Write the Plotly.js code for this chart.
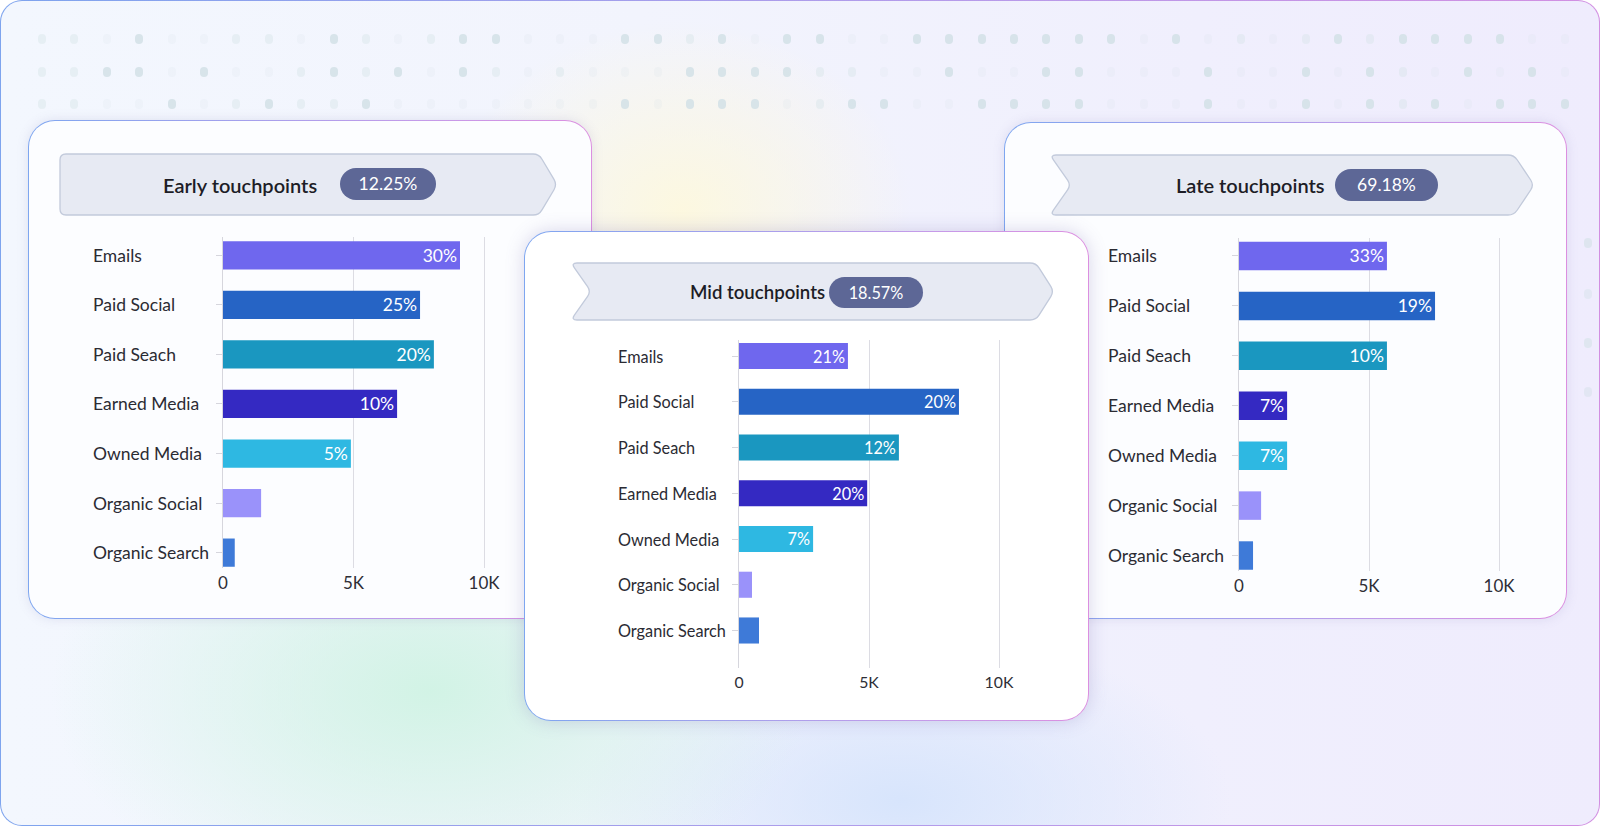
<!DOCTYPE html>
<html>
<head>
<meta charset="utf-8">
<script src="https://cdn.plot.ly/plotly-3.0.1.min.js"></script>
<style>
html,body{margin:0;padding:0;width:1600px;height:826px;overflow:hidden;background:#ffffff;font-family:Lato,"Open Sans",sans-serif;}
#frame{position:absolute;left:0;top:0;width:1600px;height:826px;box-sizing:border-box;border:1.5px solid transparent;border-radius:22px;z-index:0;overflow:hidden;
background:
 radial-gradient(ellipse 230px 190px at 680px 210px, rgba(253,248,222,0.95), rgba(253,248,222,0) 100%) padding-box,
 radial-gradient(ellipse 380px 230px at 430px 690px, rgba(208,243,228,0.95), rgba(208,243,228,0) 100%) padding-box,
 radial-gradient(ellipse 330px 170px at 900px 800px, rgba(214,228,252,0.95), rgba(214,228,252,0) 100%) padding-box,
 linear-gradient(90deg,#f3f7fe 0%,#f2f4fd 40%,#f0effd 75%,#efecfd 100%) padding-box,
 linear-gradient(90deg,#7ea4ee,#b69bea 60%,#d28fe2) border-box;}
.dot{position:absolute;width:8px;height:10px;border-radius:4px;background:#d2e1e6;}
.card{position:absolute;box-sizing:border-box;border:1.5px solid transparent;border-radius:27px;
 background:linear-gradient(#fcfdff,#fcfdff) padding-box, linear-gradient(90deg,#7ea6f0,#c49be9 70%,#dc8fe0) border-box;
 box-shadow:0 0 12px rgba(120,110,170,0.16);}
.bsvg{position:absolute;left:0;top:0;width:1600px;height:826px;pointer-events:none;}
.btitle{position:absolute;font-family:Lato,sans-serif;font-weight:600;color:#1d1d26;white-space:nowrap;}
.pill{position:absolute;background:#5d6796;color:#ffffff;font-family:Lato,sans-serif;text-align:center;}
#plot{position:absolute;left:0;top:0;width:1600px;height:826px;z-index:10;}
</style>
</head>
<body>
<div id="frame"></div>
<div class="card" style="left:28px;top:120px;width:564px;height:499px;z-index:2;"></div>
<div class="card" style="left:1004px;top:122px;width:563px;height:497px;z-index:2;"></div>
<div class="card" style="left:524px;top:231px;width:565px;height:490px;z-index:4;background:linear-gradient(#ffffff,#ffffff) padding-box, linear-gradient(90deg,#7ea6f0,#c49be9 70%,#dc8fe0) border-box;box-shadow:0 0 18px rgba(110,100,170,0.25);"></div>
<div id="banners"></div>
<div id="plot"></div>
<script>
// ---------- data ----------
const categories = ["Emails","Paid Social","Paid Seach","Earned Media","Owned Media","Organic Social","Organic Search"];
const barColors = ["#6f67ee","#2664c5","#1a97c0","#3429c2","#2eb8e2","#9a92fa","#3e7ad8"];
const earlyValues = [9080, 7550, 8080, 6670, 4900, 1460, 450];
const earlyLabels = ["30%","25%","20%","10%","5%","",""];
const midValues = [4190, 8460, 6150, 4930, 2850, 500, 770];
const midLabels = ["21%","20%","12%","20%","7%","",""];
const lateValues = [5690, 7540, 5690, 1850, 1850, 850, 540];
const lateLabels = ["33%","19%","10%","7%","7%","",""];
const xTickVals = [0, 5000, 10000];
const xTickText = ["0","5K","10K"];
const panelTitles = ["Early touchpoints","Mid touchpoints","Late touchpoints"];
const panelShares = ["12.25%","18.57%","69.18%"];

// ---------- layout geometry (pixels) ----------
const W = 1600, H = 826;
const panels = [
  {values: earlyValues, labels: earlyLabels, x0: 223, x10k: 484, top: 237, bottom: 568, yTop: -0.37, yBot: 6.31, labelX: 91, z: 3, s: 1,
   banner: [[60,154],[539,154],[557,184.5],[539,215],[60,215]], title: [163,184.5], pill: [340,168,96,32]},
  {values: midValues, labels: midLabels, x0: 739, x10k: 999, top: 340, bottom: 668, yTop: -0.35, yBot: 6.82, labelX: 616, z: 5, s: 0.93,
   banner: [[571,263],[1036,263],[1054,291.5],[1036,320],[571,320],[591,291.5]], title: [690,291.5], pill: [829,277,94,31]},
  {values: lateValues, labels: lateLabels, x0: 1239, x10k: 1499, top: 238, bottom: 571, yTop: -0.36, yBot: 6.31, labelX: 1106, z: 3, s: 1,
   banner: [[1050,155],[1514,155],[1534,185],[1514,215],[1050,215],[1071,185]], title: [1176,185], pill: [1335,169,103,32]}
];

// ---------- decoration: background dots ----------
(function(){
  const host = document.getElementById('frame');
  const rows = [38, 71, 103];
  const pattern = [
    "110200110210122000221202" + "200222222202010121222200",
    "112202001212021010002222" + "110020022000200202102020",
    "110020121120000000202220" + "122002222000200202120222"
  ];
  const op = {"0": 0.16, "1": 0.38, "2": 0.85};
  rows.forEach((y, r) => {
    for (let i = 0; i < pattern[r].length; i++) {
      const x = 41 + 32.4 * i;
      const d = document.createElement('div');
      d.className = 'dot';
      d.style.left = (x - 4) + 'px'; d.style.top = (y - 5) + 'px';
      d.style.opacity = op[pattern[r][i]];
      host.appendChild(d);
    }
  });
  [[1587,242,0.6],[1587,293,0.4],[1587,342,0.55],[1587,391,0.45],[1554,391,0.3]].forEach(p => {
    const d = document.createElement('div');
    d.className = 'dot';
    d.style.left = (p[0]-4) + 'px'; d.style.top = (p[1]-5) + 'px';
    d.style.opacity = p[2];
    host.appendChild(d);
  });
})();

// ---------- decoration: banners ----------
function roundedPath(pts, r){
  let d = '';
  const n = pts.length;
  for (let i = 0; i < n; i++) {
    const p0 = pts[(i-1+n)%n], p1 = pts[i], p2 = pts[(i+1)%n];
    const v1 = [p0[0]-p1[0], p0[1]-p1[1]], v2 = [p2[0]-p1[0], p2[1]-p1[1]];
    const l1 = Math.hypot(v1[0], v1[1]), l2 = Math.hypot(v2[0], v2[1]);
    const rr = Math.min(r, l1/2, l2/2);
    const a = [p1[0]+v1[0]/l1*rr, p1[1]+v1[1]/l1*rr];
    const b = [p1[0]+v2[0]/l2*rr, p1[1]+v2[1]/l2*rr];
    d += (i === 0 ? 'M' : 'L') + a[0].toFixed(1) + ',' + a[1].toFixed(1) + ' Q' + p1[0] + ',' + p1[1] + ' ' + b[0].toFixed(1) + ',' + b[1].toFixed(1) + ' ';
  }
  return d + 'Z';
}
(function(){
  const host = document.getElementById('banners');
  panels.forEach((p, k) => {
    const ns = 'http://www.w3.org/2000/svg';
    const svg = document.createElementNS(ns, 'svg');
    svg.setAttribute('class', 'bsvg');
    svg.setAttribute('width', W); svg.setAttribute('height', H);
    svg.style.zIndex = p.z;
    const path = document.createElementNS(ns, 'path');
    path.setAttribute('d', roundedPath(p.banner, 6));
    path.setAttribute('fill', '#e7eaf3');
    path.setAttribute('stroke', '#c2cadb');
    path.setAttribute('stroke-width', '1.3');
    svg.appendChild(path);
    host.appendChild(svg);
    const t = document.createElement('div');
    t.className = 'btitle';
    t.textContent = panelTitles[k];
    const fs = 20 * p.s;
    t.style.fontSize = fs + 'px';
    t.style.lineHeight = '30px';
    t.style.left = p.title[0] + 'px'; t.style.top = (p.title[1] - 15) + 'px';
    t.style.zIndex = p.z + 1;
    host.appendChild(t);
    const pl = document.createElement('div');
    pl.className = 'pill';
    pl.textContent = panelShares[k];
    pl.style.fontSize = (17.5 * p.s) + 'px';
    pl.style.left = p.pill[0] + 'px'; pl.style.top = p.pill[1] + 'px';
    pl.style.width = p.pill[2] + 'px'; pl.style.height = p.pill[3] + 'px';
    pl.style.lineHeight = p.pill[3] + 'px';
    pl.style.borderRadius = (p.pill[3] / 2) + 'px';
    pl.style.zIndex = p.z + 1;
    host.appendChild(pl);
  });
})();

// ---------- chart ----------
const traces = [];
const layout = {
  width: W, height: H,
  margin: {l: 0, r: 0, t: 0, b: 0},
  paper_bgcolor: 'rgba(0,0,0,0)', plot_bgcolor: 'rgba(0,0,0,0)',
  showlegend: false, bargap: 0.43,
  font: {family: 'Lato, sans-serif', color: '#2b2b33', size: 16},
  annotations: []
};
const XMAX = 10400;
panels.forEach((p, k) => {
  const sfx = k === 0 ? '' : String(k + 1);
  const pxPerUnit = (p.x10k - p.x0) / 10000;
  traces.push({
    type: 'bar', orientation: 'h',
    y: categories, x: p.values,
    xaxis: 'x' + sfx, yaxis: 'y' + sfx,
    marker: {color: barColors, line: {width: 0}},
    text: p.labels, textposition: 'inside', insidetextanchor: 'end',
    textfont: {color: '#ffffff', size: 17.5 * p.s, family: 'Lato, sans-serif'},
    constraintext: 'none', hoverinfo: 'skip', cliponaxis: false
  });
  layout['xaxis' + sfx] = {
    domain: [p.x0 / W, (p.x0 + XMAX * pxPerUnit) / W],
    range: [0, XMAX], anchor: 'y' + sfx, fixedrange: true,
    tickvals: xTickVals, ticktext: xTickText,
    showgrid: true, gridcolor: '#dcdce3', gridwidth: 1,
    zeroline: false, showline: false, ticks: '',
    ticklabelstandoff: 3,
    tickfont: {size: 17 * p.s, color: '#2e2e36'}
  };
  layout['yaxis' + sfx] = {
    domain: [1 - p.bottom / H, 1 - p.top / H],
    type: 'category', categoryorder: 'array', categoryarray: categories,
    range: [p.yBot, p.yTop], anchor: 'x' + sfx, fixedrange: true,
    showgrid: false, zeroline: false,
    showline: true, linecolor: '#d6d6dd', linewidth: 1,
    ticks: 'outside', ticklen: 6, tickcolor: '#d6d6dd', tickwidth: 1,
    showticklabels: false
  };
  categories.forEach(c => {
    layout.annotations.push({
      xref: 'paper', x: p.labelX / W, xanchor: 'left',
      yref: 'y' + sfx, y: c, yanchor: 'middle',
      text: c, showarrow: false,
      font: {size: 17.5 * p.s, color: '#2b2b33', family: 'Lato, sans-serif'}
    });
  });
});
Plotly.newPlot('plot', traces, layout, {staticPlot: true, displayModeBar: false});
</script>
</body>
</html>
